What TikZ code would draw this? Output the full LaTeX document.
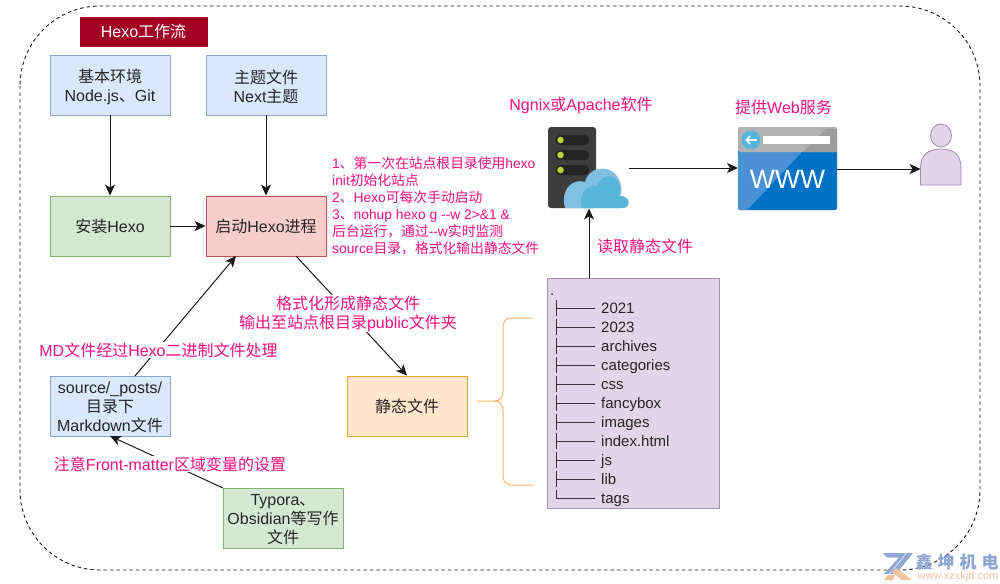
\documentclass[tikz,border=0pt]{standalone}
\usepackage{fontspec}
\setmainfont{Liberation Sans}
\newfontfamily\cjk{Noto Sans CJK SC}
\newcommand\zh[1]{{\cjk #1}}
\newcommand\dn{\rule{0pt}{18pt}}
\newcommand\dnn{\rule{0pt}{15pt}}
\usetikzlibrary{arrows.meta,calc}
\definecolor{pink}{HTML}{F5107F}
\definecolor{wmblue}{HTML}{8FA6D2}
\definecolor{wmorange}{HTML}{F2C49B}
\definecolor{titlered}{HTML}{A20025}
\definecolor{braceorange}{HTML}{FFB366}
\definecolor{bluefill}{HTML}{DAE8FC}\definecolor{bluedraw}{HTML}{8CA6CC}
\definecolor{greenfill}{HTML}{D5E8D4}\definecolor{greendraw}{HTML}{82B366}
\definecolor{redfill}{HTML}{F8CECC}\definecolor{reddraw}{HTML}{B85450}
\definecolor{orangefill}{HTML}{FFE6CC}\definecolor{orangedraw}{HTML}{E0AC30}
\definecolor{purplefill}{HTML}{E1D5E7}\definecolor{purpledraw}{HTML}{A08DB0}
\definecolor{cloudA}{HTML}{7FC0E2}\definecolor{cloudB}{HTML}{59B4D9}
\definecolor{wwwA}{HTML}{0072C6}\definecolor{wwwB}{HTML}{4A92D4}
\definecolor{serverbody}{HTML}{3D3D3D}\definecolor{serverslot}{HTML}{242424}
\definecolor{serverled}{HTML}{B8D432}
\tikzset{
  box/.style={draw,line width=0.9pt,minimum width=120pt,minimum height=60pt,inner sep=0pt,align=center,
    font=\fontsize{16}{19}\selectfont,text=black!85},
  bluebox/.style={box,fill=bluefill,draw=bluedraw},
  greenbox/.style={box,fill=greenfill,draw=greendraw},
  redbox/.style={box,fill=redfill,draw=reddraw},
  orangebox/.style={box,fill=orangefill,draw=orangedraw},
  conn/.style={draw=black!90,line width=1pt,-{Stealth[length=11pt,width=10pt,inset=3pt]}},
  lab/.style={text=pink,fill=white,inner sep=1pt,align=center,font=\fontsize{16}{19}\selectfont},
  toplab/.style={text=pink,inner sep=0pt,font=\fontsize{16}{18}\selectfont},
  item/.style={anchor=base west,inner sep=0pt,text=black!85,font=\fontsize{15}{15}\selectfont},
  treeline/.style={draw=black!80,line width=0.9pt},
  ghost/.style={inner sep=0pt,outer sep=0pt,minimum width=#1},
}
\begin{document}
\begin{tikzpicture}[x=1pt,y=-1pt]
\useasboundingbox (0,0) rectangle (1000,583);
\fill[white] (0,0) rectangle (1000,583);
% outer frame
\draw[black!90,line width=0.9pt,dash pattern=on 3.5pt off 3pt,rounded corners=80pt] (20,6) rectangle (980,570);
% title
\node[fill=titlered,draw=titlered,minimum width=127pt,minimum height=29pt,inner sep=0pt,text=white,font=\fontsize{16}{18}\selectfont] (title) at (143.5,31.5) {Hexo\zh{工作流}};
% boxes
\node[bluebox] (env) at (110,85) {\dn\zh{基本环境}\\Node.js\zh{、}Git};
\node[bluebox] (theme) at (266,85) {\dn\zh{主题文件}\\Next\zh{主题}};
\node[greenbox] (install) at (110,226) {\zh{安装}Hexo};
\node[redbox] (run) at (266,226) {\zh{启动}Hexo\zh{进程}};
\node[bluebox] (src) at (110,406) {\dnn source/\_posts/\\\zh{目录下}\\Markdown\zh{文件}};
\node[orangebox] (static) at (407,406) {\zh{静态文件}};
\node[greenbox] (typora) at (283,518) {\dnn Typora\zh{、}\\Obsidian\zh{等写作}\\\zh{文件}};
\node[draw=purpledraw,fill=purplefill,line width=0.9pt,minimum width=172pt,minimum height=230pt,inner sep=0pt] (tree) at (633,393) {};
% server icon
\node[ghost=81pt,minimum height=81pt] (server) at (588.5,168) {};
\fill[serverbody,rounded corners=3pt] (548,127) rectangle (596,208);
\foreach \yy in {140,155,170}{
  \fill[serverslot,rounded corners=4.5pt] (555.5,\yy-5) rectangle (589,\yy+5);
  \fill[serverled] (560.5,\yy) circle (3.3pt);
}
\fill[cloudA] (565,208) .. controls (560,190) and (572,178) .. (585,182)
  .. controls (590,164) and (614,164) .. (620,182) .. controls (622,190) and (622,192) .. (620,196)
  .. controls (630,196) and (632,208) .. (622,208) -- cycle;
\fill[cloudB] (582,208) .. controls (578,196) and (586,184) .. (597,186)
  .. controls (603,172) and (616,174) .. (620,186) .. controls (620,190) and (620,194) .. (620,196)
  .. controls (630,196) and (632,208) .. (622,208) -- cycle;
% www icon
\node[ghost=99pt,minimum height=83pt] (www) at (787.5,168.5) {};
\fill[wwwA,rounded corners=2pt] (738,148) rectangle (837,210);
\fill[wwwB,rounded corners=2pt] (738,152) -- (802,152) -- (747,210) -- (738,210) -- cycle;
\fill[black!30,rounded corners=2pt] (738,127) rectangle (837,152);
\fill[black!38] (803,152) -- (837,152) -- (837,129) -- (826,129) -- cycle;
\fill[white] (763,136) rectangle (830,144);
\fill[cloudB] (751,140) circle (9.5pt);
\draw[white,line width=1.4pt] (756.5,140) -- (746,140);
\draw[white,line width=1.4pt] (750,136) -- (746,140) -- (750,144);
\node[text=white,inner sep=0pt,font=\fontsize{26.5}{27}\selectfont] (wwwtext) at (787.5,179.5) {WWW};
% person
\node[ghost=41pt,minimum height=61pt] (user) at (940.5,154.5) {};
\draw[draw=purpledraw,fill=purplefill,line width=0.8pt] (941,135.5) ellipse (10.5pt and 11.5pt);
\draw[draw=purpledraw,fill=purplefill,line width=0.8pt] (920.5,185) -- (920.5,168) .. controls (920.5,155) and (928,149) .. (941,149)
  .. controls (954,149) and (961,155) .. (961,168) -- (961,185) -- cycle;
% connector ends
\coordinate (runA) at (236,256);
\coordinate (runB) at (296,256);
\coordinate (srcA) at (135,376);
\coordinate (srcB) at (110,436);
\coordinate (typA) at (223,488);
\coordinate (srvA) at (589,208.5);
\coordinate (treeA) at (589,278);
\coordinate (wwwE) at (837,169);
\coordinate (userW) at (920.5,169);
\coordinate (wwwW) at (738,168);
% connectors
\draw[conn] (env) -- (install);
\draw[conn] (theme) -- (run);
\draw[conn] (install) -- (run);
\draw[conn] (server.east) -- (wwwW);
\draw[conn] (wwwE) -- (userW);
\draw[conn] (treeA) -- (srvA);
\draw[conn] (srcA) -- (runA);
\draw[conn] (runB) -- (static.north);
\draw[conn] (typA) -- (srcB);
% connector labels
\node[lab] (lmd) at (158.5,350) {MD\zh{文件经过}Hexo\zh{二进制文件处理}};
\node[lab] (lfmt) at (348,313.5) {\zh{格式化形成静态文件}\\\zh{输出至站点根目录}public\zh{文件夹}};
\node[lab] (lfm) at (170,464) {\zh{注意}Front-matter\zh{区域变量的设置}};
\node[lab,fill=none] (lread) at (645,246) {\zh{读取静态文件}};
% top labels
\node[toplab] (lng) at (581,105) {Ngnix\zh{或}Apache\zh{软件}};
\node[toplab] (lweb) at (783.5,107) {\zh{提供}Web\zh{服务}};
\node[anchor=north west,inner sep=0pt,text=pink,align=left,font=\fontsize{13.8}{17}\selectfont] (note) at (332,156.5) {1\zh{、第一次在站点根目录使用}hexo\\init\zh{初始化站点}\\2\zh{、}Hexo\zh{可每次手动启动}\\3\zh{、}nohup hexo g -{}-w 2>\&1 \&\\\zh{后台运行，通过}-{}-w\zh{实时监测}\\source\zh{目录，格式化输出静态文件}};
% tree listing
\node[item] (dot) at (550,295) {.};
\foreach \yy/\lbl in {308/2021,327/2023,346/archives,365/categories,384/css,403/fancybox,422/images,441/index.html,460/js,479/lib}{
  \node[item] at (601,\yy+5.5) {\lbl};
  \draw[treeline] (556,\yy-8) -- (556,\yy+8);
  \draw[treeline] (556,\yy) -- (595,\yy);
}
\node[item] at (601,503.5) {tags};
\draw[treeline] (556,490) -- (556,498) -- (595,498);
% brace
\draw[draw=braceorange,line width=1pt] (533,318) -- (512,318) .. controls (505,318) and (503,322) .. (503,328)
  -- (503,391) .. controls (503,397) and (500,401) .. (495,401) -- (477,401);
\draw[draw=braceorange,line width=1pt] (533,485) -- (512,485) .. controls (505,485) and (503,481) .. (503,475)
  -- (503,411) .. controls (503,405) and (500,401) .. (495,401);
% watermark
\fill[wmblue] (883,553) -- (906,553) -- (889,574) -- (884,574) -- (899,557.5) -- (887,557.5) -- cycle;
\fill[wmblue] (913,553) -- (907,553) -- (890,574) -- (896,574) -- cycle;
\fill[wmorange] (896,568) -- (912,580) -- (902,580) -- (892,572) -- cycle;
\fill[wmorange] (884,580) -- (888,575) -- (895,575) -- (893,580) -- cycle;
\node[inner sep=0pt,text=wmblue,font=\fontsize{17}{17}\selectfont\bfseries] (wm1) at (957,562) {\zh{鑫\hspace{5pt}坤\hspace{5pt}机\hspace{5pt}电}};
\node[inner sep=0pt,text=wmorange,font=\fontsize{11}{11}\selectfont] (wm2) at (958,577) {www.xzxkjd.com};
\end{tikzpicture}
\end{document}
